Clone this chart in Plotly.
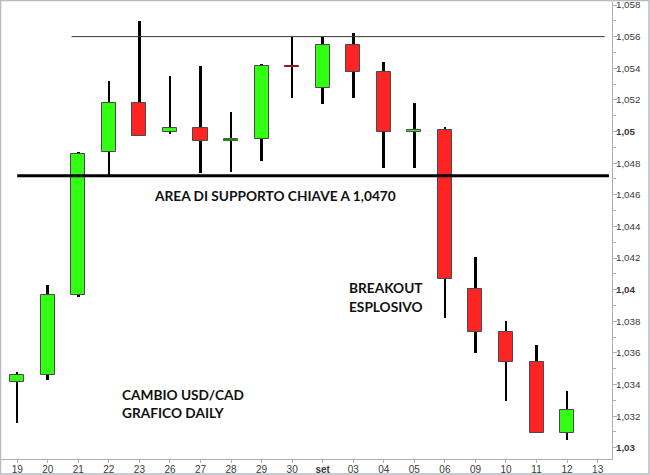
import plotly.graph_objects as go

# ---- data ----
tick_labels = ["19", "20", "21", "22", "23", "26", "27", "28", "29", "30",
               "<b>set</b>", "03", "04", "05", "06", "09", "10", "11", "12", "13"]
open_ = [1.03417, 1.03458, 1.03964, 1.04868, 1.05180, 1.04995, 1.05022, 1.04942,
         1.04953, 1.05415, 1.05273, 1.05547, 1.05374, 1.04995, 1.05010, 1.04004,
         1.03734, 1.03540, 1.03095]
high = [1.03481, 1.04027, 1.04868, 1.05317, 1.05701, 1.05353, 1.05416, 1.05125,
        1.05427, 1.05600, 1.05600, 1.05621, 1.05440, 1.05178, 1.05030, 1.04208,
        1.03803, 1.03651, 1.03360]
low = [1.03158, 1.03428, 1.03951, 1.04720, 1.04973, 1.04982, 1.04736, 1.04746,
       1.04811, 1.05210, 1.05174, 1.05210, 1.04769, 1.04769, 1.03818, 1.03597,
       1.03295, 1.03095, 1.03049]
close = [1.03460, 1.03964, 1.04860, 1.05180, 1.04973, 1.05022, 1.04942, 1.04955,
         1.05414, 1.05405, 1.05547, 1.05374, 1.04995, 1.05012, 1.04065, 1.03734,
         1.03540, 1.03095, 1.03237]
support_level = 1.0472
resistance_level = 1.056
y_tick_vals = [1.030, 1.032, 1.034, 1.036, 1.038, 1.040, 1.042, 1.044,
               1.046, 1.048, 1.050, 1.052, 1.054, 1.056, 1.058]
y_tick_text = ["<b>1,03</b>", "1,032", "1,034", "1,036", "1,038", "<b>1,04</b>",
               "1,042", "1,044", "1,046", "1,048", "<b>1,05</b>", "1,052",
               "1,054", "1,056", "1,058"]

x = list(range(len(open_)))
UP, DOWN = "#33ff14", "#ff2424"
body_colors = [UP if c >= o else DOWN for o, c in zip(open_, close)]
line_colors = ["#4a4a4a"] * len(open_)
# doji lines drawn in dark tone
body_colors[7] = line_colors[7] = "#2e7a1e"
body_colors[9] = line_colors[9] = "#8a1c1c"

fig = go.Figure()
# wicks
fig.add_trace(go.Bar(
    x=x, base=low, y=[h - l for h, l in zip(high, low)],
    width=0.085, marker=dict(color="black", line=dict(width=0)),
    hoverinfo="skip", showlegend=False))
# bodies
fig.add_trace(go.Bar(
    x=x, base=[min(o, c) for o, c in zip(open_, close)],
    y=[abs(c - o) for o, c in zip(open_, close)],
    width=0.46,
    marker=dict(color=body_colors, line=dict(color=line_colors, width=1)),
    showlegend=False))

shapes = [
    dict(type="line", xref="x", yref="y", x0=0, x1=19.37,
         y0=support_level, y1=support_level, line=dict(color="black", width=3)),
    dict(type="line", xref="x", yref="y", x0=1.78, x1=19.23,
         y0=resistance_level, y1=resistance_level, line=dict(color="#333333", width=1)),
    dict(type="rect", xref="paper", yref="paper",
         x0=-0.5 / 611, x1=(649 - 1) / 611, y0=-(474 - 459) / 457, y1=1 + 1.5 / 457,
         line=dict(color="#b4bcc4", width=1.5), fillcolor="rgba(0,0,0,0)", layer="above"),
]

ann_font = dict(family="Lato, Calibri, sans-serif", size=13.7, color="#111111")
annotations = [
    dict(text="<b>AREA DI SUPPORTO CHIAVE A 1,0470</b>", xref="paper", yref="paper",
         x=0.4484, y=0.5755, xanchor="center", yanchor="middle", showarrow=False, font=ann_font),
    dict(text="<b>BREAKOUT</b>", xref="paper", yref="paper", x=0.5658, y=1 - (287.3 - 2) / 457,
         xanchor="left", yanchor="middle", showarrow=False, font=ann_font),
    dict(text="<b>ESPLOSIVO</b>", xref="paper", yref="paper", x=0.5658, y=1 - (306 - 2) / 457,
         xanchor="left", yanchor="middle", showarrow=False, font=ann_font),
    dict(text="<b>CAMBIO USD/CAD</b>", xref="paper", yref="paper", x=0.1948, y=1 - (394 - 2) / 457,
         xanchor="left", yanchor="middle", showarrow=False, font=ann_font),
    dict(text="<b>GRAFICO DAILY</b>", xref="paper", yref="paper", x=0.1948, y=1 - (412.7 - 2) / 457,
         xanchor="left", yanchor="middle", showarrow=False, font=ann_font),
]

fig.update_layout(
    width=650, height=475,
    margin=dict(l=1, r=38, t=2, b=16),
    paper_bgcolor="white", plot_bgcolor="white",
    barmode="overlay", bargap=0,
    shapes=shapes, annotations=annotations,
    showlegend=False,
    xaxis=dict(range=[-0.53, 19.47], tickmode="array", automargin=False,
               tickvals=list(range(len(tick_labels))), ticktext=tick_labels,
               showgrid=False, zeroline=False, showline=True, linecolor="#a9b1b9",
               linewidth=1, ticks="outside", ticklen=3, tickcolor="#a9b1b9",
               ticklabelstandoff=-2, ticklabeloverflow="allow",
               tickfont=dict(family="Liberation Sans, Arial, sans-serif", size=10, color="#3a3a3a")),
    yaxis=dict(side="right", range=[1.02929, 1.05819], tickmode="array", automargin=False,
               tickvals=y_tick_vals, ticktext=y_tick_text,
               showgrid=False, zeroline=False, showline=True, linecolor="#a9b1b9",
               linewidth=1, ticks="outside", ticklen=4, tickcolor="#a9b1b9",
               ticklabelstandoff=-3, ticklabeloverflow="allow",
               minor=dict(tickmode="linear", tick0=1.03, dtick=0.001, ticks="outside",
                          ticklen=3, tickcolor="#a9b1b9"),
               tickfont=dict(family="Liberation Sans, Arial, sans-serif", size=9.8, color="#3a3a3a")),
)

fig.write_html("out.html", config={"displayModeBar": False},
               post_script="document.body.style.margin='0';document.body.style.padding='0';")
